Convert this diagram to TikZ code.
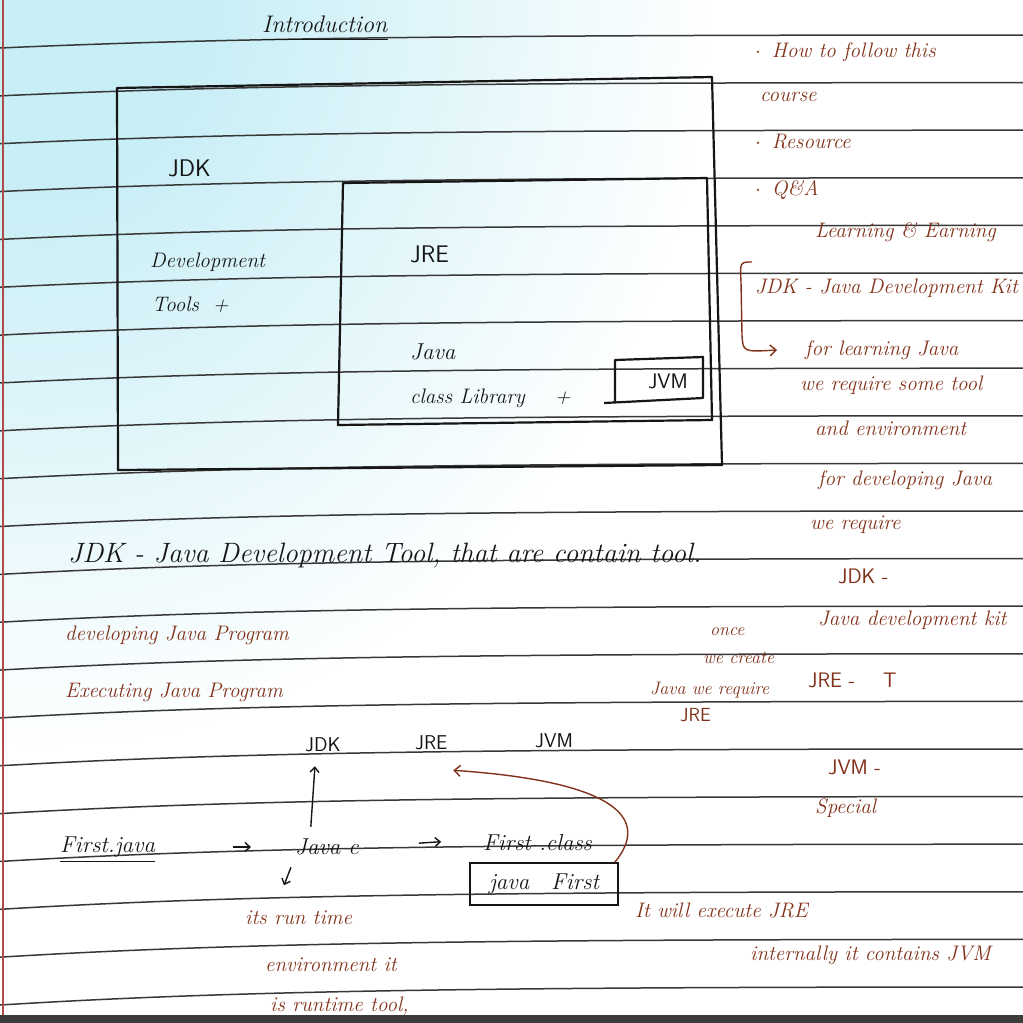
\documentclass[tikz,border=0pt]{standalone}
\usetikzlibrary{arrows.meta}
\definecolor{penc}{HTML}{161616}
\definecolor{inkc}{HTML}{82321A}
\definecolor{rulec}{HTML}{383838}
\definecolor{marginc}{HTML}{B24A4A}
\definecolor{glarec}{HTML}{C8EEF6}
\definecolor{barc}{HTML}{3C3C3C}
\newcommand\fsz[1]{\fontsize{#1}{#1}\selectfont}
\pgfdeclareradialshading{glare}{\pgfpoint{0bp}{0bp}}{color(0bp)=(glarec); color(6bp)=(glarec); color(25bp)=(white); color(50bp)=(white)}
\begin{document}
\begin{tikzpicture}[x=1pt,y=-1pt,
  rule/.style={draw=rulec, line width=1.5pt},
  box/.style={draw=penc, line width=2.2pt, line join=round},
  print/.style={text=penc, font=\sffamily\fsz{24}, inner sep=0pt, anchor=west},
  hand/.style={text=penc, font=\itshape\fsz{23}, inner sep=0pt, anchor=west},
  note/.style={text=inkc, font=\itshape\fsz{21}, inner sep=0pt, anchor=west},
  noteprint/.style={text=inkc, font=\sffamily\fsz{21}, inner sep=0pt, anchor=west},
  arr/.style={draw=penc, line width=1.4pt, -{Straight Barb[length=5pt,width=9pt]}},
  inkarr/.style={draw=inkc, line width=1.4pt, -{Straight Barb[length=6pt,width=11pt]}}]
\useasboundingbox (0,0) rectangle (1023,1023);

% paper with light glare in the upper left
\fill[white] (0,0) rectangle (1023,1023);
\shade[shading=glare] (40,0) ellipse [x radius=680, y radius=760];

% ruled lines of the notebook page
\foreach \i in {0,...,20}{
  \pgfmathsetmacro\L{48+47.85*\i}
  \pgfmathsetmacro\R{35+47.6*\i}
  \draw[rule] (0,\L) .. controls (220,{\L-0.75*(\L-\R)}) and (450,\R) .. (1023,\R);
}
% margin line and lower edge
\draw[marginc, line width=1.6pt] (3,0) -- (3,1023);
\fill[barc] (0,1015) rectangle (1023,1023);

% title
\node[hand, font=\itshape\fsz{24}] (intro) at (262,24) {Introduction};
\draw[penc, line width=1.6pt] ([yshift=-7pt]intro.south west) -- ([yshift=-7pt]intro.south east);

% JDK box with JRE and JVM inside
\draw[box] (117,88) -- (712,77) -- (722,465) -- (118,470) -- cycle;
\draw[box] (343,183) -- (707,178) -- (712,420) -- (338,425) -- cycle;
\draw[box] (604,403) -- (703,398) -- (703,357) -- (615,360) -- (615,402);

\node[print] (jdkA) at (168,168) {JDK};
\node[hand, font=\itshape\fsz{21}] (devA) at (150,262) {Development};
\node[hand, font=\itshape\fsz{21}] (toolsA) at (152,305) {Tools\hspace{14pt}+};
\node[print] (jreA) at (410,254) {JRE};
\node[hand] (javaA) at (410,352) {Java};
\node[hand, font=\itshape\fsz{21}] (libA) at (410,398) {class Library\hspace{30pt}+};
\node[print, font=\sffamily\fsz{21}, anchor=center] (jvmA) at (668,381) {JVM};

% notes in the right column
\node[note] (n1) at (755,52) {$\cdot$\, How to follow this};
\node[note] (n2) at (760,97) {course};
\node[note] (n3) at (755,142) {$\cdot$\, Resource};
\node[note] (n4) at (755,190) {$\cdot$\, Q\&A};
\node[note] (n5) at (815,232) {Learning \& Earning};
\node[note] (n6) at (755,288) {JDK - Java Development Kit};
\node[note] (n7) at (805,350) {for learning Java};
\node[note] (n8) at (800,385) {we require some tool};
\node[note] (n9) at (815,428) {and environment};
\node[note] (n10) at (818,480) {for developing Java};
\node[note] (n11) at (810,525) {we require};
\coordinate (brTop) at (752,262);
\draw[inkarr] (brTop) .. controls (740,262) .. (741,282) -- (742,335)
  .. controls (743,352) .. ([xshift=-28pt]n7.west);

% definitions below the box
\node[hand, font=\itshape\fsz{28}] (s1) at (68,555) {JDK - Java Development Tool, that are contain tool.};
\node[note] (dp) at (65,635) {developing Java Program};
\node[note] (ex) at (65,692) {Executing Java Program};
\node[note, font=\itshape\fsz{18}] (o1) at (710,632) {once};
\node[note, font=\itshape\fsz{18}] (o2) at (703,658) {we create};
\node[note, font=\itshape\fsz{18}] (o3) at (650,690) {Java we require};
\node[noteprint, font=\sffamily\fsz{19}] (o4) at (680,715) {JRE};

\node[noteprint] (r1) at (838,576) {JDK -};
\node[note] (r2) at (818,620) {Java development kit};
\node[noteprint] (r3) at (808,680) {JRE -\hspace{28pt}T};
\node[noteprint] (r4) at (828,767) {JVM -};
\node[note] (r5) at (815,808) {Special};

% compile and run flow
\node[print, font=\sffamily\fsz{20}] (d1) at (305,745) {JDK};
\node[print, font=\sffamily\fsz{20}] (d2) at (415,743) {JRE};
\node[print, font=\sffamily\fsz{20}] (d3) at (535,741) {JVM};

\node[hand] (fj) at (60,847) {First.java};
\draw[penc, line width=1.4pt] ([yshift=-4pt]fj.south west) -- ([yshift=-4pt]fj.south east);
\node[hand] (jc) at (295,847) {Java c};
\node[hand] (fc) at (483,843) {First .class};
\node[hand, draw=penc, line width=1.8pt, anchor=center, minimum width=148pt, minimum height=42pt] (jb) at (544,884) {java\hspace{22pt}First};

\draw[arr, shorten <=78pt, shorten >=44pt] (fj.east) -- (jc.west);
\draw[arr, shorten <=60pt, shorten >=42pt] (jc.east) -- ([yshift=4pt]fc.west);
\draw[arr, shorten <=12pt, shorten >=14pt] ([xshift=-17pt]jc.north) -- ([xshift=-7pt]d1.south);
\draw[arr] ([xshift=-36pt, yshift=-12pt]jc.south) -- ([xshift=-43pt, yshift=-30pt]jc.south);
\draw[inkarr] ([xshift=-4pt]jb.north east) .. controls (648,822) and (625,782) .. ([xshift=22pt, yshift=-20pt]d2.south);

\node[note] (i1) at (245,918) {its run time};
\node[note] (i2) at (265,965) {environment it};
\node[note] (i3) at (270,1006) {is runtime tool,};
\node[note] (e1) at (635,910) {It will execute JRE};
\node[note] (e2) at (750,955) {internally it contains JVM};
\end{tikzpicture}
\end{document}
